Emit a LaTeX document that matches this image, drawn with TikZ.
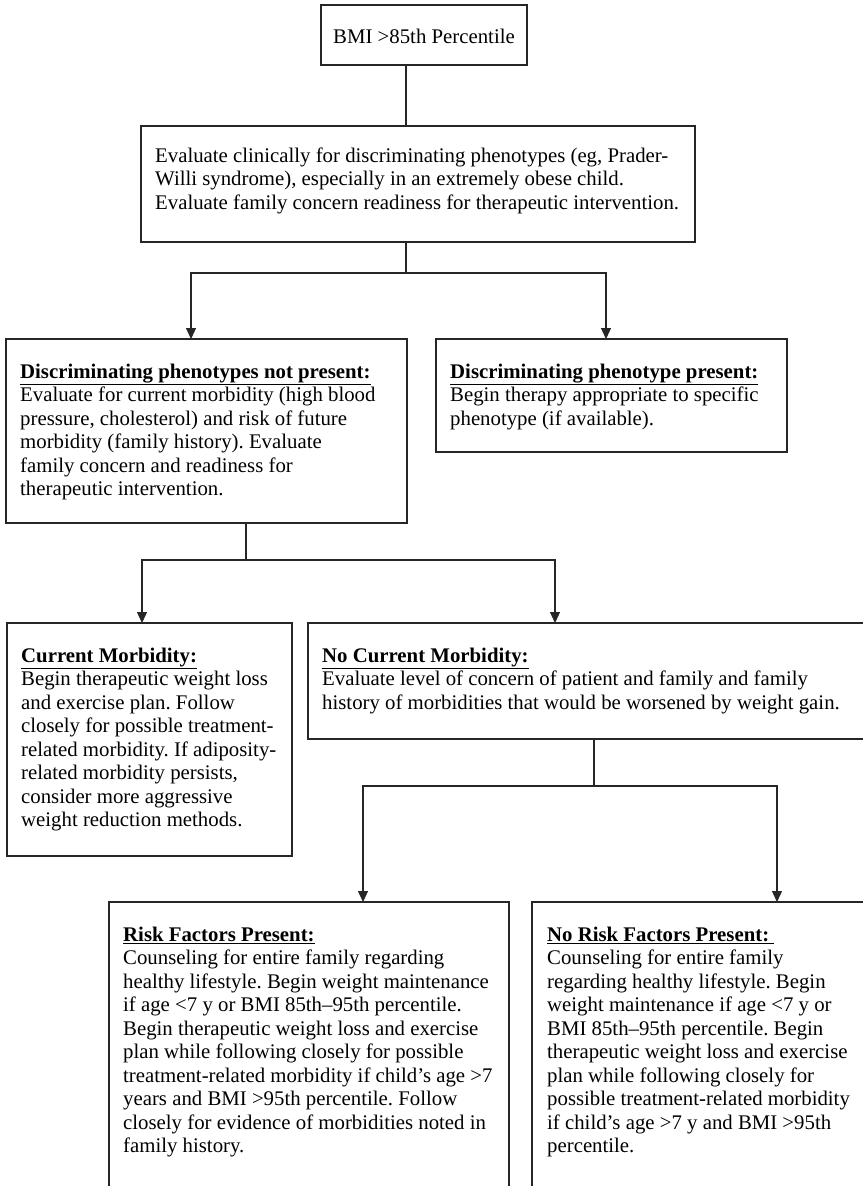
\documentclass[tikz,border=0pt]{standalone}
\usepackage{fontspec}
\setmainfont{Liberation Serif}
\usetikzlibrary{arrows.meta}
\newcommand{\boxhead}[1]{\textbf{\underline{#1}}}
\frenchspacing
\begin{document}
\begin{tikzpicture}[x=1bp,y=-1bp,
  box/.style={draw=black!85, line width=1.3bp, anchor=north west, inner sep=0pt, outer sep=0pt},
  txt/.style={anchor=base west, inner sep=0pt, font=\fontsize{20.8bp}{23.5bp}\selectfont},
  link/.style={draw=black!85, line width=1.2bp},
  arr/.style={link, -{Triangle[width=10bp,length=11bp]}}]
\useasboundingbox (0,0) rectangle (863,1186);
\clip (0,0) rectangle (863,1186);

% boxes
\node[box, minimum width=206bp, minimum height=60bp]  (b1) at (321,5)   {};
\node[box, minimum width=554bp, minimum height=116bp] (b2) at (141,126) {};
\node[box, minimum width=401bp, minimum height=184bp] (b3) at (6,339)   {};
\node[box, minimum width=351bp, minimum height=113bp] (b4) at (436,339) {};
\node[box, minimum width=285bp, minimum height=233bp] (b5) at (7,623)   {};
\node[box, minimum width=570bp, minimum height=116bp] (b6) at (308,623) {};
\node[box, minimum width=400bp, minimum height=320bp] (b7) at (109,902) {};
\node[box, minimum width=345bp, minimum height=320bp] (b8) at (532,902) {};

% texts
\node[inner sep=0pt, font=\fontsize{20.8bp}{23.5bp}\selectfont] (t1) at ([yshift=-1bp]b1.center) {BMI >85th Percentile};

\node[txt] (t2) at ([xshift=14bp,yshift=-36bp]b2.north west) {\parbox[t]{540bp}{\raggedright
Evaluate clinically for discriminating phenotypes (eg, Prader-\\
Willi syndrome), especially in an extremely obese child.\\
Evaluate family concern readiness for therapeutic intervention.}};

\node[txt] (t3) at ([xshift=14bp,yshift=-39bp]b3.north west) {\parbox[t]{390bp}{\raggedright
\boxhead{Discriminating phenotypes not present:}\\
Evaluate for current morbidity (high blood\\
pressure, cholesterol) and risk of future\\
morbidity (family history). Evaluate\\
family concern and readiness for\\
therapeutic intervention.}};

\node[txt] (t4) at ([xshift=14bp,yshift=-39bp]b4.north west) {\parbox[t]{340bp}{\raggedright
\boxhead{Discriminating phenotype present:}\\
Begin therapy appropriate to specific\\
phenotype (if available).}};

\node[txt] (t5) at ([xshift=14bp,yshift=-39bp]b5.north west) {\parbox[t]{280bp}{\raggedright
\boxhead{Current Morbidity:}\\
Begin therapeutic weight loss\\
and exercise plan. Follow\\
closely for possible treatment-\\
related morbidity. If adiposity-\\
related morbidity persists,\\
consider more aggressive\\
weight reduction methods.}};

\node[txt] (t6) at ([xshift=14bp,yshift=-39bp]b6.north west) {\parbox[t]{550bp}{\raggedright
\boxhead{No Current Morbidity:}\\
Evaluate level of concern of patient and family and family\\
history of morbidities that would be worsened by weight gain.}};

\node[txt] (t7) at ([xshift=14bp,yshift=-39bp]b7.north west) {\parbox[t]{390bp}{\raggedright
\boxhead{Risk Factors Present:}\\
Counseling for entire family regarding\\
healthy lifestyle. Begin weight maintenance\\
if age <7 y or BMI 85th–95th percentile.\\
Begin therapeutic weight loss and exercise\\
plan while following closely for possible\\
treatment-related morbidity if child’s age >7\\
years and BMI >95th percentile. Follow\\
closely for evidence of morbidities noted in\\
family history.}};

\node[txt] (t8) at ([xshift=15bp,yshift=-39bp]b8.north west) {\parbox[t]{330bp}{\raggedright
\boxhead{No Risk Factors Present:\ }\\
Counseling for entire family\\
regarding healthy lifestyle. Begin\\
weight maintenance if age <7 y or\\
BMI 85th–95th percentile. Begin\\
therapeutic weight loss and exercise\\
plan while following closely for\\
possible treatment-related morbidity\\
if child’s age >7 y and BMI >95th\\
percentile.}};

% junctions
\coordinate (j1) at (406,273);
\coordinate (j2) at (246,560);
\coordinate (j3) at (594,786);

% connectors
\draw[link] (b1.south -| j1) -- (b2.north -| j1);
\draw[link] (b2.south -| j1) -- (j1);
\draw[arr] (j1) -| ([xshift=185bp]b3.north west);
\draw[arr] (j1) -| ([xshift=170bp]b4.north west);

\draw[link] (b3.south -| j2) -- (j2);
\draw[arr] (j2) -| ([xshift=135bp]b5.north west);
\draw[arr] (j2) -| ([xshift=247bp]b6.north west);

\draw[link] (b6.south -| j3) -- (j3);
\draw[arr] (j3) -| ([xshift=254bp]b7.north west);
\draw[arr] (j3) -| ([xshift=245bp]b8.north west);
\end{tikzpicture}
\end{document}
